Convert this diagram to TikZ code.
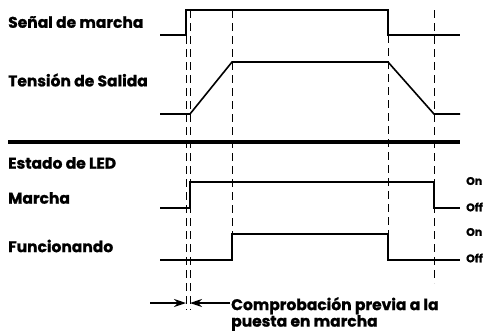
\documentclass[tikz,border=0pt]{standalone}
\usepackage{fontspec}
\setmainfont{Poppins}[FakeBold=1]
\usetikzlibrary{arrows.meta, positioning}

\begin{document}
\begin{tikzpicture}[x=1pt, y=-1pt,
  lbl/.style={anchor=west, inner sep=0pt, font=\fontsize{15.5}{16.5}\selectfont\bfseries},
  state/.style={anchor=west, inner sep=0pt, font=\fontsize{11}{12}\selectfont\bfseries},
  signal/.style={line width=1.6pt},
  guide/.style={line width=0.9pt, dash pattern=on 8pt off 5pt},
  arrow/.style={-{Stealth[length=12pt,width=8pt]}, line width=1.5pt}
]
\useasboundingbox (0,0) rectangle (486,332);

% labels
\node[lbl] (sig)  at (8,22)  {Señal de marcha};
\node[lbl] (vout) at (8,80)  {Tensión de Salida};
\node[lbl] (led)  at (8,163) {Estado de LED};
\node[lbl] (run)  at (8,198) {Marcha};
\node[lbl] (ok)   at (8,246) {Funcionando};

\node[state] (runon)  at (466,181) {On};
\node[state] (runoff) at (466,207) {Off};
\node[state] (okon)   at (466,232) {On};
\node[state] (okoff)  at (466,258) {Off};

% waveforms
\draw[signal] (160,35) -- (186,35) -- (186,10) -- (388,10) -- (388,35) -- (460,35);
\draw[signal] (160,114) -- (190,114) -- (232,62) -- (388,62) -- (434,114) -- (460,114);
\draw[line width=3.8pt] (8,142) -- (460,142);
\draw[signal] (160,208) -- (190,208) -- (190,182) -- (434,182) -- (434,208) -- (460,208);
\draw[signal] (160,260) -- (232,260) -- (232,234) -- (388,234) -- (388,260) -- (460,260);

% guides
\draw[guide] (186,10) -- (186,310);
\draw[guide] (190,10) -- (190,310);
\draw[guide] (232,10) -- (232,234);
\draw[guide] (388,35) -- (388,234);
\draw[guide] (434,10) -- (434,283);

% pre-start check
\coordinate (chkl) at (186,303);
\coordinate (chkr) at (190,303);
\draw[arrow] (150,303) -- (chkl);
\draw[arrow] (230,303) -- (chkr);
\node[lbl, anchor=north west, align=left] (chk) at (231,297)
  {Comprobación previa a la\\puesta en marcha};

\end{tikzpicture}
\end{document}
